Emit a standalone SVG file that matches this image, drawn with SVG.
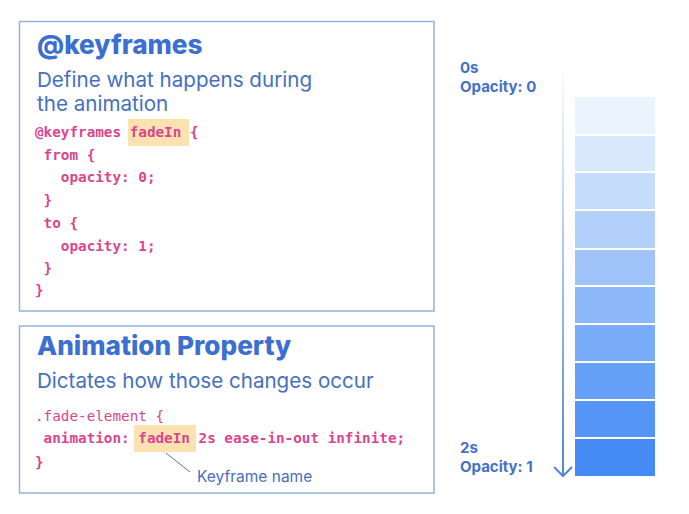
<svg xmlns="http://www.w3.org/2000/svg" width="689" height="514" viewBox="0 0 689 514">
<defs>
<style>
.box{fill:#ffffff;stroke:#93b3da;stroke-width:1.5}
.title{font-family:Inter,"Noto Sans",sans-serif;font-weight:800;font-size:26.2px;fill:#3b6fd1}
.sub{font-family:Inter,"Noto Sans",sans-serif;font-weight:400;font-size:20.6px;fill:#4670be}
.code{font-family:"DejaVu Sans Mono","Liberation Mono",monospace;font-size:14.3px;fill:#d8468e;font-weight:700}
.codeN{font-family:"DejaVu Sans Mono","Liberation Mono",monospace;font-size:14.3px;fill:#d8468e;font-weight:400}
.hl{fill:#fbe2b0}
.lbl{font-family:Inter,"Noto Sans",sans-serif;font-weight:700;font-size:15px;fill:#4272c6}
.note{font-family:Inter,"Noto Sans",sans-serif;font-weight:400;font-size:15.5px;fill:#4670be}
</style>
<linearGradient id="ag" x1="0" y1="0" x2="0" y2="1">
<stop offset="0" stop-color="#ffffff"/>
<stop offset="1" stop-color="#4f87dc"/>
</linearGradient>
</defs>
<rect width="689" height="514" fill="#ffffff"/>
<g id="keyframes">
<rect class="box" x="19.5" y="21.5" width="414.5" height="289.5"/>
<text class="title" x="37" y="54">@keyframes</text>
<text class="sub" x="37" y="87">Define what happens during</text>
<text class="sub" x="37" y="111">the animation</text>
<rect class="hl" x="128" y="119" width="61" height="27"/>
<text class="code" x="35" y="137">@keyframes fadeIn {</text>
<text class="code" x="35" y="160" xml:space="preserve"> from {</text>
<text class="code" x="35" y="182" xml:space="preserve">   opacity: 0;</text>
<text class="code" x="35" y="205" xml:space="preserve"> }</text>
<text class="code" x="35" y="228" xml:space="preserve"> to {</text>
<text class="code" x="35" y="251" xml:space="preserve">   opacity: 1;</text>
<text class="code" x="35" y="273" xml:space="preserve"> }</text>
<text class="code" x="35" y="295">}</text>
</g>
<g id="animation-property">
<rect class="box" x="19.5" y="326" width="414.5" height="167"/>
<text class="title" x="37" y="355">Animation Property</text>
<text class="sub" x="37" y="388">Dictates how those changes occur</text>
<rect class="hl" x="134" y="425" width="62" height="27"/>
<text class="codeN" x="35" y="421">.fade-element {</text>
<text class="code" x="35" y="443" xml:space="preserve"> animation: fadeIn 2s ease-in-out infinite;</text>
<text class="code" x="35" y="467">}</text>
<text class="note" x="197" y="482">Keyframe name</text>
</g>
<g id="timeline">
<text class="lbl" x="460" y="73">0s</text>
<text class="lbl" x="460" y="92">Opacity: 0</text>
<text class="lbl" x="460" y="453">2s</text>
<text class="lbl" x="460" y="472">Opacity: 1</text>
<rect x="575" y="97" width="80" height="37" fill="#eaf3fe"/>
<rect x="575" y="136" width="80" height="35" fill="#d9e8fd"/>
<rect x="575" y="173" width="80" height="36" fill="#c6dcfb"/>
<rect x="575" y="211" width="80" height="37" fill="#b3d0fa"/>
<rect x="575" y="250" width="80" height="35" fill="#a0c4fa"/>
<rect x="575" y="287" width="80" height="36" fill="#8db9fa"/>
<rect x="575" y="325" width="80" height="36" fill="#79acf8"/>
<rect x="575" y="363" width="80" height="36" fill="#67a0f7"/>
<rect x="575" y="401" width="80" height="36" fill="#5595f6"/>
<rect x="575" y="439" width="80" height="37" fill="#458af5"/>
</g>
<g id="connectors" fill="none">
<line x1="166" y1="453" x2="190" y2="472" stroke="#5a78a8" stroke-width="1"/>
<rect x="562" y="60" width="2" height="415" fill="url(#ag)" stroke="none"/>
<polyline points="554,467 563,476 572,467" stroke="#4f87dc" stroke-width="2"/>
</g>
</svg>
